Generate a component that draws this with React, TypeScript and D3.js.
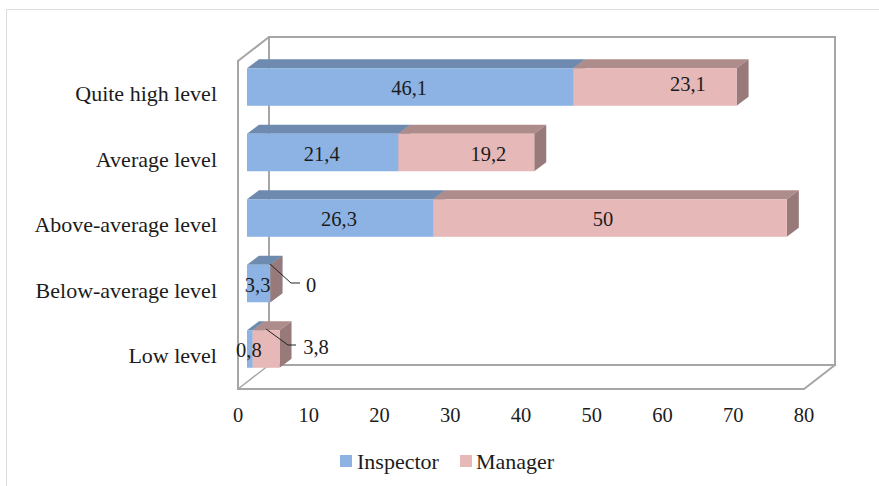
import React from "react";
import * as d3 from "d3";

const categories = ["Quite high level", "Average level", "Above-average level", "Below-average level", "Low level"];
const inspector = [46.1, 21.4, 26.3, 3.3, 0.8];
const manager = [23.1, 19.2, 50, 0, 3.8];
const ticks = [0, 10, 20, 30, 40, 50, 60, 70, 80];
const seriesNames = ["Inspector", "Manager"];

const W = 879;
const H = 486;
const FONT = "'Liberation Serif', 'Times New Roman', serif";
const INK = "#1c1c1c";
const FRAME = "#a6a6a6";

// Oblique offset of the 3D box and of the bars inside it
const DEPTH_X = 31;
const DEPTH_Y = 24;
const BAR_DX = 12;
const BAR_DY = 9;
const BAR_INSET = 9;

const x = d3.scaleLinear().domain([0, 80]).range([238, 804]);
const band = d3
  .scaleBand<string>()
  .domain(categories)
  .range([54.25, 381.75])
  .paddingInner(0.427)
  .paddingOuter(0.2135);

const FLOOR = 389;
const TOP = 61;
const VALUE_SIZE = 20.5;

const fmt = (v: number) => String(v).replace(".", ",");
const barX = (v: number) => x(v) + BAR_INSET;

const palette = [
  { front: "#8cb3e3", top: "#6e8aaf", side: "#6e8aaf" },
  { front: "#e6b8b7", top: "#ae8c8b", side: "#997a7a" },
];

function poly(points: [number, number][]) {
  return points.map((p) => p.join(",")).join(" ");
}

function Segment({ from, to, y, h, s }: { from: number; to: number; y: number; h: number; s: number }) {
  const a = barX(from);
  const b = barX(to);
  const c = palette[s];
  return (
    <g>
      <polygon
        points={poly([[a, y], [b, y], [b + BAR_DX, y - BAR_DY], [a + BAR_DX, y - BAR_DY]])}
        fill={c.top}
      />
      <polygon
        points={poly([[b, y], [b + BAR_DX, y - BAR_DY], [b + BAR_DX, y + h - BAR_DY], [b, y + h]])}
        fill={c.side}
      />
      <rect x={a} y={y} width={b - a} height={h} fill={c.front} />
    </g>
  );
}

// Manager labels sit away from the segment centre in a few rows
const managerLabelShift: Record<string, [number, number]> = {
  "Quite high level": [33, -4],
  "Average level": [22, 0],
  "Above-average level": [-7, 0],
};

export default function App() {
  const left = x(0);
  const right = x(80);
  const lineProps = { stroke: FRAME, strokeWidth: 2, fill: "none" };
  const textProps = { fontFamily: FONT, fill: INK };
  return (
    <svg
      width={W}
      height={H}
      viewBox={`0 0 ${W} ${H}`}
      style={{ position: "absolute", left: 0, top: 0, background: "#fff" }}
    >
      <path d={`M6.5,${H} V9.5 H${W}`} fill="none" stroke="#dcdcdc" strokeWidth={1} />

      {/* box: back wall, left wall, floor */}
      <rect x={left + DEPTH_X} y={TOP - DEPTH_Y} width={right - left} height={FLOOR - TOP} {...lineProps} />
      <path
        d={`M${left + DEPTH_X},${TOP - DEPTH_Y} L${left},${TOP} V${FLOOR} H${right} L${right + DEPTH_X},${FLOOR - DEPTH_Y}`}
        {...lineProps}
      />
      <path d={`M${left},${FLOOR} L${left + DEPTH_X},${FLOOR - DEPTH_Y}`} {...lineProps} strokeWidth={1.5} />

      {/* stacked bars */}
      {categories.map((cat, i) => {
        const y = band(cat)!;
        const h = band.bandwidth();
        return (
          <g key={cat}>
            <Segment from={0} to={inspector[i]} y={y} h={h} s={0} />
            <Segment from={inspector[i]} to={inspector[i] + manager[i]} y={y} h={h} s={1} />
          </g>
        );
      })}

      {/* category labels */}
      {categories.map((cat) => (
        <text
          key={cat}
          x={217}
          y={band(cat)! + band.bandwidth() / 2 + 14}
          textAnchor="end"
          fontSize={22}
          {...textProps}
        >
          {cat}
        </text>
      ))}

      {/* value labels */}
      {categories.map((cat, i) => {
        const cy = band(cat)! + band.bandwidth() / 2 + 8;
        const ax = (barX(0) + barX(inspector[i])) / 2;
        const shift = managerLabelShift[cat];
        return (
          <g key={cat} fontSize={VALUE_SIZE} textAnchor="middle" {...textProps}>
            <text x={ax - 1} y={cy}>{fmt(inspector[i])}</text>
            {shift && (
              <text x={(barX(inspector[i]) + barX(inspector[i] + manager[i])) / 2 + shift[0]} y={cy + shift[1]}>
                {fmt(manager[i])}
              </text>
            )}
          </g>
        );
      })}

      {/* leader lines for the two narrow manager segments */}
      <polyline points="270,264 291,283 300,283" fill="none" stroke="#222" strokeWidth={1} />
      <text x={311} y={291.5} fontSize={VALUE_SIZE} textAnchor="middle" {...textProps}>{fmt(manager[3])}</text>
      <polyline points="266,329 288,345 296,345" fill="none" stroke="#222" strokeWidth={1} />
      <text x={316} y={353.5} fontSize={VALUE_SIZE} textAnchor="middle" {...textProps}>{fmt(manager[4])}</text>

      {/* value axis */}
      {ticks.map((t) => (
        <text key={t} x={x(t)} y={421.5} fontSize={VALUE_SIZE} textAnchor="middle" {...textProps}>
          {t}
        </text>
      ))}

      {/* legend */}
      <rect x={340} y={455} width={12} height={12} fill={palette[0].front} />
      <text x={357} y={469} fontSize={22} {...textProps}>{seriesNames[0]}</text>
      <rect x={460} y={455} width={12} height={12} fill={palette[1].front} />
      <text x={476} y={469} fontSize={22} {...textProps}>{seriesNames[1]}</text>
    </svg>
  );
}
